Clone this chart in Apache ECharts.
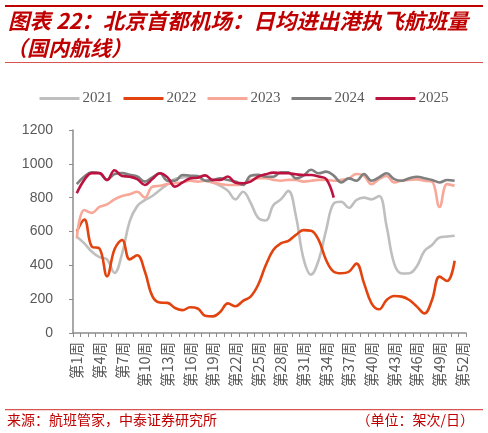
<!DOCTYPE html>
<html>
<head>
<meta charset="utf-8">
<script src="https://cdn.jsdelivr.net/npm/echarts@6/dist/echarts.min.js"></script>
<style>
html,body{margin:0;padding:0;background:#fff;}
#main{width:488px;height:433px;}
</style>
</head>
<body>
<div id="main"></div>
<script>
var weeks = [];
for (var i = 1; i <= 52; i++) { weeks.push('第' + i + '周'); }

var seriesNames = ['2021', '2022', '2023', '2024', '2025'];

var y2021 = [569, 530, 480, 448, 435, 355, 470, 660, 750, 785, 810, 845, 880, 910, 920, 925, 920, 900, 890, 870, 840, 790, 835, 770, 680, 665, 755, 790, 840, 690, 440, 345, 430, 610, 765, 776, 740, 786, 800, 790, 810, 630, 410, 352, 353, 395, 485, 520, 565, 570, 575];
var y2022 = [600, 670, 510, 500, 335, 495, 550, 435, 460, 365, 218, 180, 178, 148, 135, 152, 145, 102, 98, 126, 175, 158, 190, 215, 285, 400, 490, 530, 545, 580, 608, 605, 550, 430, 362, 353, 362, 410, 295, 175, 140, 195, 219, 215, 195, 156, 116, 195, 333, 307, 427];
var y2023 = [560, 727, 710, 745, 760, 790, 810, 820, 835, 800, 865, 870, 880, 885, 890, 900, 895, 900, 890, 880, 875, 875, 880, 905, 915, 915, 905, 900, 905, 905, 895, 900, 905, 905, 900, 905, 914, 940, 930, 880, 910, 928, 890, 900, 905, 908, 900, 895, 745, 880, 870];
var y2024 = [880, 925, 950, 945, 905, 940, 945, 935, 925, 895, 920, 944, 900, 900, 934, 930, 928, 900, 905, 914, 904, 895, 875, 930, 935, 924, 924, 950, 950, 914, 930, 965, 944, 954, 930, 890, 914, 900, 940, 900, 920, 944, 910, 900, 915, 924, 915, 905, 890, 904, 900];
var y2025 = [826, 905, 945, 945, 904, 962, 928, 924, 910, 875, 910, 944, 920, 865, 890, 914, 918, 932, 904, 905, 925, 888, 885, 895, 924, 938, 948, 945, 944, 938, 934, 934, 925, 910, 800];

var seriesData = [y2021, y2022, y2023, y2024, y2025];
var colors = ['#BFBFBF', '#E2440F', '#F8A898', '#7F7F7F', '#BC1240'];

var chart = echarts.init(document.getElementById('main'), null, {renderer: 'canvas'});

var series = seriesNames.map(function (n, k) {
  return {
    name: n,
    type: 'line',
    data: seriesData[k],
    smooth: 0.4,
    showSymbol: false,
    symbol: 'none',
    lineStyle: {width: 2.6, color: colors[k]},
    itemStyle: {color: colors[k]},
    z: 2 + k
  };
});

var option = {
  animation: false,
  backgroundColor: '#ffffff',
  legend: {
    data: seriesNames.map(function (n, k) { return {name: n, icon: 'rect', itemStyle: {color: colors[k]}}; }),
    top: 86,
    left: 'center',
    itemWidth: 40,
    itemHeight: 3,
    itemGap: 11,
    textStyle: {fontFamily: 'Liberation Serif', fontSize: 15, color: '#595959', padding: [0, 0, 0, -2]}
  },
  grid: {left: 73, right: 22, top: 130, bottom: 100, containLabel: false},
  xAxis: {
    type: 'category',
    data: weeks,
    boundaryGap: true,
    axisLine: {show: true, lineStyle: {color: '#8C8C8C', width: 1.5}},
    axisTick: {show: true, interval: 0, length: 4, lineStyle: {color: '#8C8C8C', width: 1}},
    axisLabel: {
      interval: 2,
      rotate: 90,
      fontSize: 14.5,
      color: '#595959',
      fontFamily: 'Noto Sans CJK SC',
      margin: 9
    },
    splitLine: {show: false}
  },
  yAxis: {
    type: 'value',
    min: 0,
    max: 1200,
    interval: 200,
    axisLine: {show: true, lineStyle: {color: '#8C8C8C', width: 1.5}},
    axisTick: {show: true, inside: false, length: 4, lineStyle: {color: '#8C8C8C'}},
    axisLabel: {fontSize: 14, color: '#595959', fontFamily: 'Liberation Sans', margin: 20, formatter: function (v) { return String(v); }},
    splitLine: {show: false}
  },
  graphic: [
    {type: 'rect', shape: {x: 5, y: 5, width: 478, height: 2}, style: {fill: '#C00000'}},
    {type: 'text', left: 8, top: 10, style: {text: '图表 22：北京首都机场：日均进出港执飞航班量', fontSize: 21.5, fontStyle: 'italic', fontWeight: 'bold', fill: '#C00000', fontFamily: 'Noto Sans CJK SC'}},
    {type: 'text', left: 6, top: 38, style: {text: '（国内航线）', fontSize: 21, fontStyle: 'italic', fontWeight: 'bold', fill: '#C00000', fontFamily: 'Noto Sans CJK SC'}},
    {type: 'rect', shape: {x: 5, y: 62, width: 478, height: 1}, style: {fill: '#D9534F'}},
    {type: 'rect', shape: {x: 5, y: 409, width: 478, height: 1.2}, style: {fill: '#D9534F'}},
    {type: 'text', left: 7, top: 413, style: {text: '来源：航班管家，中泰证券研究所', fontSize: 14, fill: '#C00000', fontFamily: 'Noto Sans CJK SC'}},
    {type: 'text', right: 14, top: 413, style: {text: '（单位：架次/日）', fontSize: 14, fill: '#C00000', fontFamily: 'Noto Sans CJK SC'}}
  ],
  series: series
};

chart.setOption(option);
</script>
</body>
</html>
